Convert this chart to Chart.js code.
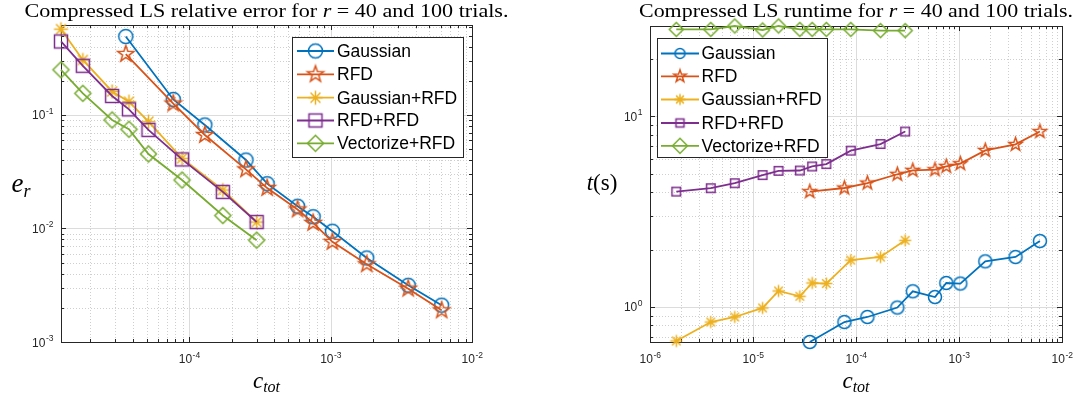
<!DOCTYPE html>
<html>
<head>
<meta charset="utf-8">
<script src="https://cdn.jsdelivr.net/npm/chart.js@4.4.1/dist/chart.umd.min.js"></script>
<style>
html, body { margin: 0; padding: 0; background: #fff; }
#wrap { position: relative; width: 1079px; height: 396px; }
#errChart { position: absolute; left: 0; top: 0; }
#timeChart { position: absolute; left: 540px; top: 0; }
</style>
</head>
<body>
<div id="wrap">
  <canvas id="errChart" width="540" height="396"></canvas>
  <canvas id="timeChart" width="539" height="396"></canvas>
</div>
<script>
// series names
const seriesNames = ['Gaussian', 'RFD', 'Gaussian+RFD', 'RFD+RFD', 'Vectorize+RFD'];

// c_tot values: one-stage sketches (Gaussian, RFD) and two-stage sketches
const cOneStage = [3.56e-5, 7.72e-5, 1.29e-4, 2.52e-4, 3.56e-4, 5.84e-4, 7.53e-4, 1.03e-3, 1.80e-3, 3.54e-3, 6.10e-3];
const cTwoStage = [1.80e-6, 3.89e-6, 6.65e-6, 1.24e-5, 1.77e-5, 2.85e-5, 3.75e-5, 5.15e-5, 8.90e-5, 1.73e-4, 3.00e-4];

// relative error e_r (left plot); two-stage errors only for the points shown (c >= 1.24e-5)
const errGauss = [0.491, 0.137, 0.0816, 0.0401, 0.0248, 0.0157, 0.0127, 0.00946, 0.00550, 0.00316, 0.00211];
const errRfd = [0.344, 0.126, 0.0666, 0.0332, 0.0227, 0.0147, 0.0112, 0.00762, 0.00484, 0.00295, 0.00190];
const errGaussRfd = [0.570, 0.305, 0.161, 0.131, 0.0873, 0.0415, 0.0218, 0.0114];
const errRfdRfd = [0.444, 0.271, 0.147, 0.112, 0.0738, 0.0406, 0.0210, 0.0114];
const errVec = [0.250, 0.155, 0.0903, 0.0748, 0.0453, 0.0267, 0.0130, 0.00789];

// runtime t(s) (right plot)
const tGauss = [0.655, 0.834, 0.886, 0.993, 1.209, 1.128, 1.336, 1.327, 1.736, 1.829, 2.218];
const tRfd = [4.03, 4.21, 4.47, 4.97, 5.21, 5.25, 5.47, 5.65, 6.63, 7.13, 8.33];
const tGaussRfd = [0.663, 0.834, 0.886, 0.988, 1.213, 1.138, 1.336, 1.327, 1.762, 1.829, 2.237];
const tRfdRfd = [4.03, 4.20, 4.46, 4.92, 5.18, 5.20, 5.46, 5.62, 6.61, 7.16, 8.33];
const tVec = [28.6, 28.6, 29.8, 28.4, 29.8, 28.6, 28.6, 28.6, 28.6, 28.2, 28.2];

// tick exponents
const errXTicks = [-4, -3, -2];
const errYTicks = [-3, -2, -1];
const timeXTicks = [-6, -5, -4, -3, -2];
const timeYTicks = [0, 1];

const colors = ['#0072BD', '#D95319', '#EDB120', '#7E2F8E', '#77AC30'];
const markers = ['circle', 'pentagram', 'asterisk', 'square', 'diamond'];
const TXT = '#262626';
const SANS = '"Liberation Sans", Arial, sans-serif';
const SERIF = '"Liberation Serif", "Times New Roman", serif';

function markerImage(kind, color, size) {
    const s = Math.ceil(size * 2 + 5);
    const cv = document.createElement('canvas');
    cv.width = s;
    cv.height = s;
    const g = cv.getContext('2d');
    g.strokeStyle = color;
    g.lineWidth = 1.5;
    g.translate(s / 2, s / 2);
    g.beginPath();
    if (kind === 'circle') {
        g.arc(0, 0, size, 0, Math.PI * 2);
    } else if (kind === 'square') {
        g.rect(-size, -size, 2 * size, 2 * size);
    } else if (kind === 'diamond') {
        g.moveTo(0, -size); g.lineTo(size, 0); g.lineTo(0, size); g.lineTo(-size, 0); g.closePath();
    } else if (kind === 'pentagram') {
        for (let i = 0; i < 10; i++) {
            const r = i % 2 ? size * 0.4 : size;
            const a = -Math.PI / 2 + i * Math.PI / 5;
            if (i === 0) g.moveTo(r * Math.cos(a), r * Math.sin(a));
            else g.lineTo(r * Math.cos(a), r * Math.sin(a));
        }
        g.closePath();
    } else if (kind === 'asterisk') {
        for (let i = 0; i < 4; i++) {
            const a = i * Math.PI / 4;
            g.moveTo(size * Math.cos(a), size * Math.sin(a));
            g.lineTo(-size * Math.cos(a), -size * Math.sin(a));
        }
    }
    g.stroke();
    return cv;
}

function pairs(xs, ys) {
    return ys.map((v, i) => ({ x: xs[i], y: v }));
}

function drawPow(ctx, exp, x, y, align) {
    const sup = String(exp);
    ctx.font = '12px ' + SANS;
    const wb = ctx.measureText('10').width;
    ctx.font = '8.5px ' + SANS;
    const ws = ctx.measureText(sup).width;
    const total = wb + ws;
    const left = align === 'center' ? x - total / 2 : (align === 'right' ? x - total : x);
    ctx.textAlign = 'left';
    ctx.textBaseline = 'alphabetic';
    ctx.fillStyle = TXT;
    ctx.font = '12px ' + SANS;
    ctx.fillText('10', left, y);
    ctx.font = '8.5px ' + SANS;
    ctx.fillText(sup, left + wb + 0.5, y - 5.5);
}

// segments: [text, font, yShift]; optional target width stretches the run horizontally
function drawSegments(ctx, segs, cx, y, target) {
    let total = 0;
    segs.forEach(s => { ctx.font = s[1]; total += ctx.measureText(s[0]).width; });
    const sx = target ? target / total : 1;
    ctx.save();
    ctx.translate(cx - total * sx / 2, y);
    ctx.scale(sx, 1);
    ctx.textAlign = 'left';
    ctx.textBaseline = 'alphabetic';
    ctx.fillStyle = '#000';
    let x = 0;
    segs.forEach(s => {
        ctx.font = s[1];
        ctx.fillText(s[0], x, s[2] || 0);
        x += ctx.measureText(s[0]).width;
    });
    ctx.restore();
}

function logValues(min, max) {
    const out = [];
    for (let d = Math.floor(Math.log10(min)); d <= Math.ceil(Math.log10(max)); d++) {
        for (let k = 1; k <= 9; k++) {
            const v = k * Math.pow(10, d);
            if (v > min * 1.0001 && v < max * 0.9999) out.push({ v: v, major: k === 1 });
        }
    }
    return out;
}

const matlabAxes = {
    id: 'matlabAxes',
    beforeDatasetsDraw(chart, args, opts) {
        const ctx = chart.ctx;
        const a = chart.chartArea;
        const xs = chart.scales.x, ys = chart.scales.y;
        const xv = logValues(xs.min, xs.max);
        const yv = logValues(ys.min, ys.max);
        ctx.save();
        ctx.lineWidth = 1;
        // minor grid
        ctx.strokeStyle = '#cfcfcf';
        ctx.setLineDash([1, 2]);
        ctx.beginPath();
        xv.filter(t => !t.major).forEach(t => {
            const p = Math.round(xs.getPixelForValue(t.v)) + 0.5;
            ctx.moveTo(p, a.top); ctx.lineTo(p, a.bottom);
        });
        yv.filter(t => !t.major).forEach(t => {
            const p = Math.round(ys.getPixelForValue(t.v)) + 0.5;
            ctx.moveTo(a.left, p); ctx.lineTo(a.right, p);
        });
        ctx.stroke();
        // major grid
        ctx.setLineDash([]);
        ctx.strokeStyle = '#dcdcdc';
        ctx.beginPath();
        xv.filter(t => t.major).forEach(t => {
            const p = Math.round(xs.getPixelForValue(t.v)) + 0.5;
            ctx.moveTo(p, a.top); ctx.lineTo(p, a.bottom);
        });
        yv.filter(t => t.major).forEach(t => {
            const p = Math.round(ys.getPixelForValue(t.v)) + 0.5;
            ctx.moveTo(a.left, p); ctx.lineTo(a.right, p);
        });
        ctx.stroke();
        // ticks (inside, all four sides)
        ctx.strokeStyle = TXT;
        ctx.beginPath();
        xv.forEach(t => {
            const p = Math.round(xs.getPixelForValue(t.v)) + 0.5;
            const len = t.major ? 5 : 3;
            ctx.moveTo(p, a.bottom); ctx.lineTo(p, a.bottom - len);
            ctx.moveTo(p, a.top); ctx.lineTo(p, a.top + len);
        });
        yv.forEach(t => {
            const p = Math.round(ys.getPixelForValue(t.v)) + 0.5;
            const len = t.major ? 5 : 3;
            ctx.moveTo(a.left, p); ctx.lineTo(a.left + len, p);
            ctx.moveTo(a.right, p); ctx.lineTo(a.right - len, p);
        });
        ctx.stroke();
        // box
        ctx.strokeRect(Math.round(a.left) + 0.5, Math.round(a.top) + 0.5,
            Math.round(a.right - a.left), Math.round(a.bottom - a.top));
        // tick labels
        opts.xTicks.forEach(e => {
            drawPow(ctx, e, xs.getPixelForValue(Math.pow(10, e)), a.bottom + 21, 'center');
        });
        opts.yTicks.forEach(e => {
            drawPow(ctx, e, a.left - 8, ys.getPixelForValue(Math.pow(10, e)) + 4.5, 'right');
        });
        // title
        const cx = (a.left + a.right) / 2;
        const tf = '18px ' + SERIF, tfi = 'italic 18px ' + SERIF;
        drawSegments(ctx, [[opts.titleA, tf], ['r', tfi], [opts.titleB, tf]], cx, 17, opts.titleWidth);
        // axis labels
        const mi = 'italic 23px ' + SERIF, ms = 'italic 16px ' + SERIF, mr = '23px ' + SERIF;
        drawSegments(ctx, [['c', mi], ['tot', ms, 4]], cx, a.bottom + 46);
        const cy = (a.top + a.bottom) / 2;
        if (opts.yLabel === 'e') {
            drawSegments(ctx, [['e', 'italic 27px ' + SERIF], ['r', 'italic 18px ' + SERIF, 5]], opts.yLabelX, cy + 8);
        } else {
            drawSegments(ctx, [['t', mi], ['(s)', mr]], opts.yLabelX, cy + 6);
        }
        ctx.restore();
    },
    afterDatasetsDraw(chart, args, opts) {
        const ctx = chart.ctx;
        const L = opts.legend;
        ctx.save();
        ctx.fillStyle = '#fff';
        ctx.fillRect(L.x, L.y, L.w, L.h);
        ctx.strokeStyle = TXT;
        ctx.lineWidth = 1;
        ctx.strokeRect(L.x + 0.5, L.y + 0.5, L.w, L.h);
        seriesNames.forEach((name, i) => {
            const ry = L.rows[i];
            ctx.strokeStyle = colors[i];
            ctx.lineWidth = 1.8;
            ctx.beginPath();
            ctx.moveTo(L.x1, ry); ctx.lineTo(L.x2, ry);
            ctx.stroke();
            const img = L.markers[i];
            ctx.drawImage(img, (L.x1 + L.x2) / 2 - img.width / 2, ry - img.height / 2);
            ctx.fillStyle = '#000';
            ctx.font = '17.5px ' + SANS;
            ctx.textAlign = 'left';
            ctx.textBaseline = 'middle';
            ctx.fillText(name, L.tx, ry + 1);
        });
        ctx.restore();
    }
};

function makeDatasets(xsList, ysList, sizes) {
    return ysList.map((ys, i) => ({
        label: seriesNames[i],
        data: pairs(xsList[i], ys),
        borderColor: colors[i],
        borderWidth: 1.8,
        pointStyle: markerImage(markers[i], colors[i], sizes[i]),
        pointRadius: 6,
        pointHoverRadius: 6,
        fill: false,
        tension: 0,
        clip: false,
        order: 4 - i
    }));
}

function makeChart(id, datasets, xr, yr, padding, axesOpts) {
    return new Chart(document.getElementById(id), {
        type: 'line',
        data: { datasets: datasets },
        options: {
            responsive: false,
            animation: false,
            layout: { padding: padding },
            scales: {
                x: { type: 'logarithmic', min: xr[0], max: xr[1], display: false },
                y: { type: 'logarithmic', min: yr[0], max: yr[1], display: false }
            },
            plugins: {
                legend: { display: false },
                tooltip: { enabled: false },
                matlabAxes: axesOpts
            }
        },
        plugins: [matlabAxes]
    });
}

const cShown = cTwoStage.slice(3);
const errSizes = [7, 8.5, 7, 6.5, 8];
makeChart('errChart',
    makeDatasets([cOneStage, cOneStage, cShown, cShown, cShown],
        [errGauss, errRfd, errGaussRfd, errRfdRfd, errVec], errSizes),
    [1.24e-5, 1e-2], [1e-3, 0.62],
    { left: 61, right: 68, top: 25, bottom: 54 },
    {
        titleA: 'Compressed LS relative error for ', titleB: ' = 40 and 100 trials.', titleWidth: 484,
        xTicks: errXTicks, yTicks: errYTicks, yLabel: 'e', yLabelX: 21,
        legend: {
            x: 292, y: 37, w: 171, h: 120, rows: [51, 74.3, 97.7, 120.5, 143.3],
            x1: 297, x2: 334, tx: 337,
            markers: markers.map((m, i) => markerImage(m, colors[i], errSizes[i]))
        }
    });

const timeSizes = [6.5, 7, 6, 4.3, 7];
const legendSizes = [5, 6.5, 5.5, 4, 7.5];
makeChart('timeChart',
    makeDatasets([cOneStage, cOneStage, cTwoStage, cTwoStage, cTwoStage],
        [tGauss, tRfd, tGaussRfd, tRfdRfd, tVec], timeSizes),
    [1e-6, 1e-2], [0.655, 29.8],
    { left: 110, right: 17, top: 26, bottom: 54 },
    {
        titleA: 'Compressed LS runtime for ', titleB: ' = 40 and 100 trials.', titleWidth: 434,
        xTicks: timeXTicks, yTicks: timeYTicks, yLabel: 't', yLabelX: 62,
        legend: {
            x: 117, y: 38, w: 170, h: 119, rows: [53.5, 76.3, 99.5, 123, 145.8],
            x1: 121, x2: 159, tx: 161.5,
            markers: markers.map((m, i) => markerImage(m, colors[i], legendSizes[i]))
        }
    });
</script>
</body>
</html>
